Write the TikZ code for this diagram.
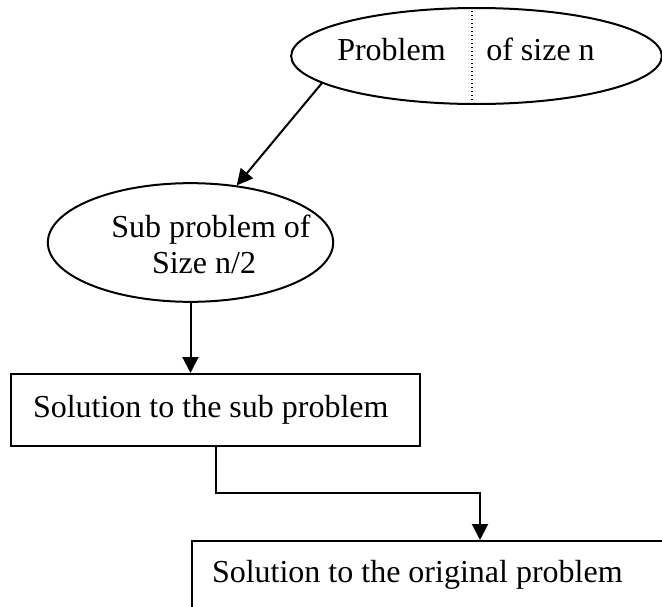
\documentclass[tikz,border=0pt]{standalone}
\usepackage{fontspec}
\setmainfont{Liberation Serif}
\usetikzlibrary{shapes.geometric,arrows.meta}

\tikzset{every picture/.style={line width=1.5pt}}
\tikzset{
  ell/.style={draw, ellipse, inner sep=0pt},
  txt/.style={anchor=base, inner sep=0.75pt, font=\fontsize{24}{27}\selectfont},
  box/.style={draw, rectangle, align=flush left, inner ysep=0pt, font=\fontsize{24}{27}\selectfont},
  conn/.style={-{Triangle[length=12pt,width=12pt]}}
}

\begin{document}
\begin{tikzpicture}[x=0.75pt,y=0.75pt,yscale=-1,xscale=1]
\useasboundingbox (0,0) rectangle (662,607);
\clip (0,0) rectangle (662,607);

%Shape: Ellipse [id:prob]
\node [ell, minimum width=278pt, minimum height=72pt] (prob) at (476.5,56) {};
%Straight Lines [id:divider]
\coordinate (dv) at (472,56);
\draw [dotted, line width=1pt] (dv |- prob.north) -- (dv |- prob.south);
% Text Node
\node [txt] (probL) at (391.5,60) {Problem};
% Text Node
\node [txt] (probR) at (540.5,60) {of size n};

%Shape: Ellipse [id:sub]
\node [ell, minimum width=214pt, minimum height=89pt] (sub) at (190.5,242.5) {};
% Text Node
\node [txt] (subA) at (211,237) {Sub problem of};
% Text Node
\node [txt] (subB) at (204,273) {Size n/2};

%Shape: Rectangle [id:box1]
\node [box, text width=273.75pt, inner xsep=16.5pt, minimum height=54pt] (box1) at (215.5,410) {Solution to the sub problem};
%Shape: Rectangle [id:box2]
\node [box, text width=336pt, inner xsep=15pt, minimum height=50.25pt] (box2) at (436,574.5) {Solution to the original problem};

%Straight Lines [id:conn1]
\draw [conn] (prob.190) -- (sub.51);
%Straight Lines [id:conn2]
\draw [conn] (sub.south) -- (sub.south |- box1.north);
%Straight Lines [id:conn3]
\coordinate (bend) at (480,493);
\draw [conn] (box1.south) |- (bend) -- (bend |- box2.north);

\end{tikzpicture}
\end{document}
